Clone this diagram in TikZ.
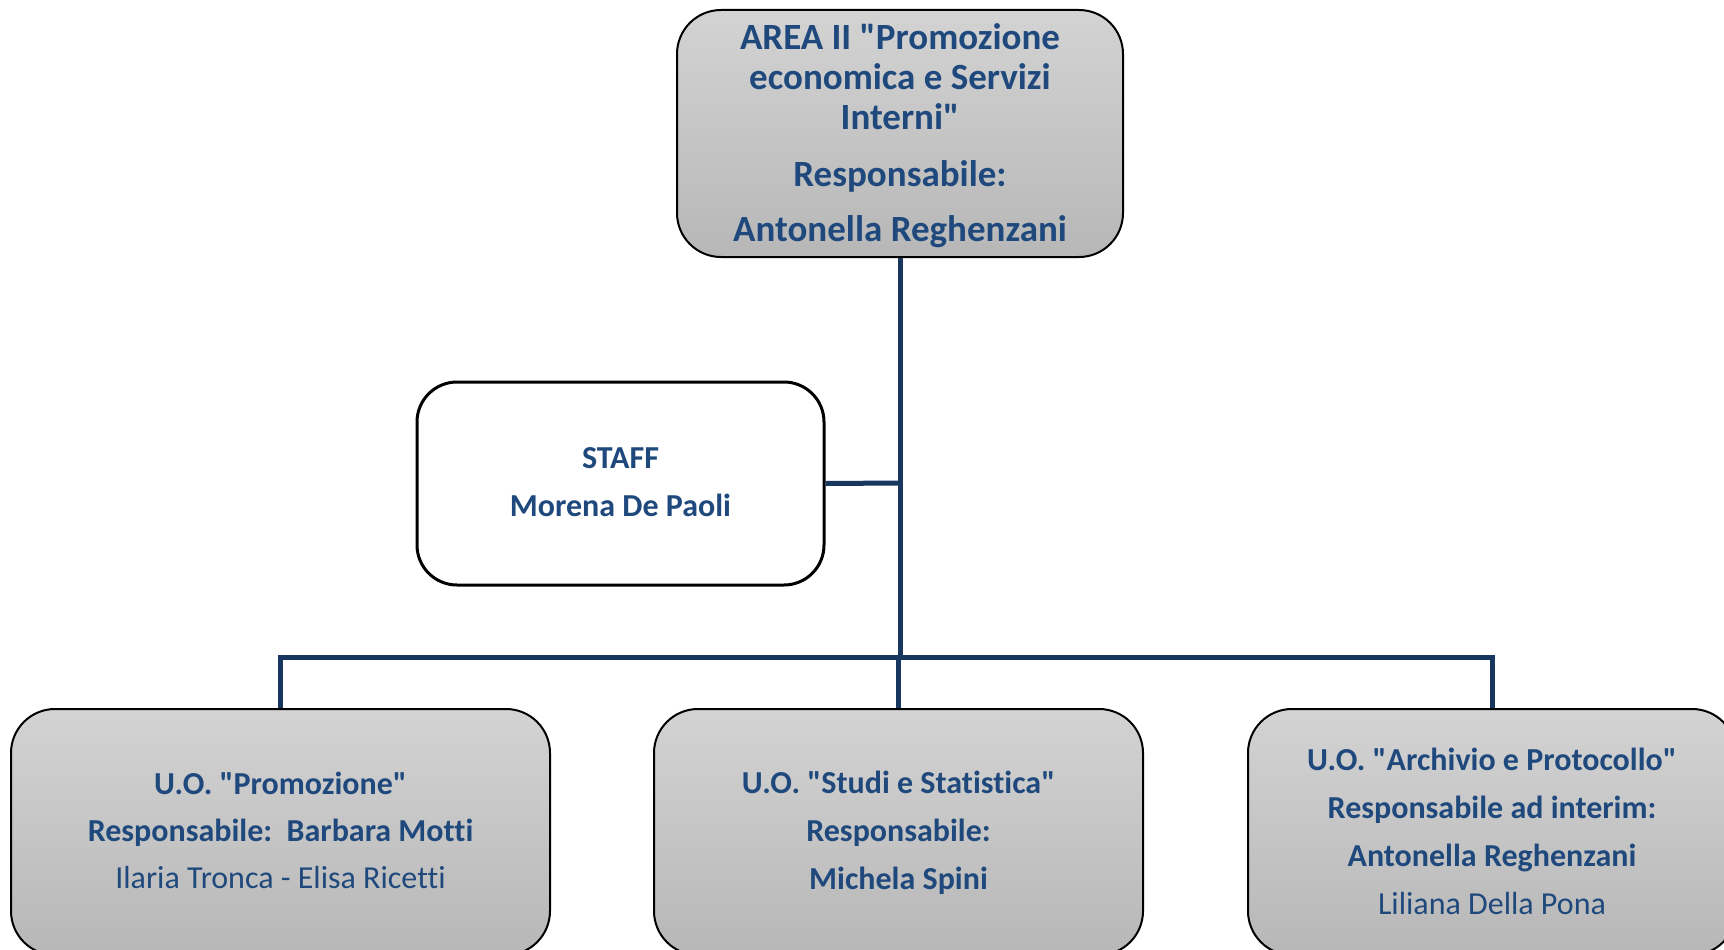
\documentclass[tikz,border=0pt]{standalone}
\usepackage{fontspec}
\setmainfont{Carlito}[Ligatures={TeXOff,NoCommon}]
\newcommand{\qq}{"}
\definecolor{txtblue}{HTML}{1F497D}
\definecolor{linenavy}{HTML}{17375E}
\definecolor{gtop}{HTML}{D3D3D3}
\definecolor{gbot}{HTML}{B7B7B7}
\begin{document}
\begin{tikzpicture}[x=1pt,y=-1pt,
  greybox/.style={draw=black,line width=2pt,rounded corners=44pt,top color=gtop,bottom color=gbot,inner sep=0pt},
  whitebox/.style={draw=black,line width=3pt,rounded corners=40pt,fill=white,inner sep=0pt},
  conn/.style={draw=linenavy,line width=5pt},
  txt/.style={text=txtblue,align=center,inner sep=0pt}]
\useasboundingbox (0,0) rectangle (1724,950);
\clip (0,0) rectangle (1724,950);
% boxes
\node[greybox,minimum width=446pt,minimum height=247pt] (top) at (900,133.5) {};
\node[whitebox,minimum width=407pt,minimum height=203pt] (staff) at (620.5,483.5) {};
\node[greybox,minimum width=539pt,minimum height=246pt] (L) at (280.5,832) {};
\node[greybox,minimum width=489pt,minimum height=246pt] (M) at (898.5,832) {};
\node[greybox,minimum width=488pt,minimum height=246pt] (R) at (1492,832) {};
% texts
\node[txt,font=\fontsize{37}{40}\selectfont\bfseries] (toptxt) at (900,135.5) {AREA II \qq Promozione\\economica e Servizi\\Interni\qq\\[17pt]Responsabile:\\[15pt]Antonella Reghenzani};
\node[txt,font=\fontsize{32}{48}\selectfont\bfseries] (stafftxt) at (620.5,482) {STAFF\\Morena De Paoli};
\node[txt,font=\fontsize{32}{47}\selectfont] (Ltxt) at (280.5,830) {\textbf{U.O. \qq Promozione\qq}\\\textbf{Responsabile:\ \ Barbara Motti}\\Ilaria Tronca - Elisa Ricetti};
\node[txt,font=\fontsize{32}{48}\selectfont\bfseries] (Mtxt) at (898.5,832.5) {U.O. \qq Studi e Statistica\qq\\Responsabile:\\Michela Spini};
\node[txt,font=\fontsize{32}{48}\selectfont] (Rtxt) at (1492,831) {\textbf{U.O. \qq Archivio e Protocollo\qq}\\\textbf{Responsabile ad interim:}\\\textbf{Antonella Reghenzani}\\Liliana Della Pona};
% connectors
\coordinate (j) at (900,657);
\coordinate (s) at (900,483);
\draw[conn] (top.south) -- (j);
\draw[conn] (staff.east) -- (s);
\draw[conn] (L.north) |- (j);
\draw[conn] (R.north) |- (j);
\draw[conn] (M.north) -- (M.north |- j);
\end{tikzpicture}
\end{document}
